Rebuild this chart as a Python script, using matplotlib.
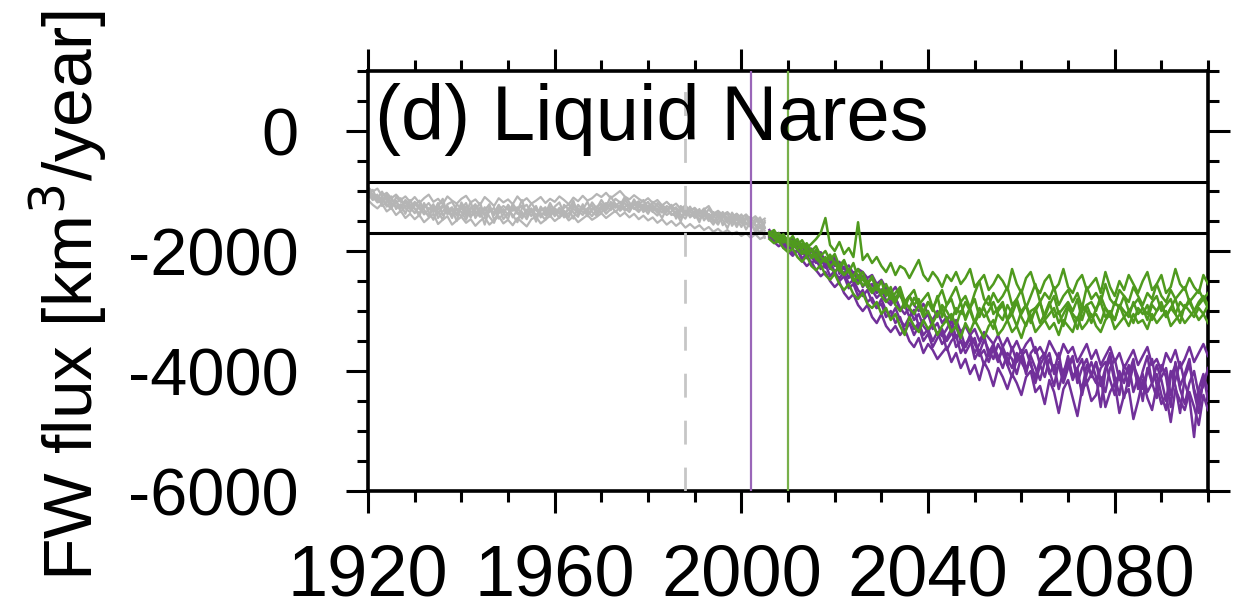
import numpy as np
import matplotlib
matplotlib.use("Agg")
import matplotlib.pyplot as plt
from matplotlib.ticker import MultipleLocator

plt.rcParams['font.family'] = ['Liberation Sans', 'DejaVu Sans']
plt.rcParams['axes.unicode_minus'] = False

# ---------------- data (km^3/year) ----------------
years_hist = np.arange(1920, 2006)      # 1920..2005
years_scen = np.arange(2006, 2101)      # 2006..2100

hist_members = [
    [-1000,-1120,-1060,-1250,-1180,-1090,-1300,-1220,-1380,-1150,
     -1290,-1420,-1200,-1350,-1480,-1260,-1130,-1390,-1310,-1500,
     -1240,-1370,-1180,-1450,-1320,-1560,-1290,-1400,-1230,-1360,
     -1470,-1210,-1330,-1150,-1420,-1290,-1510,-1260,-1380,-1200,
     -1340,-1450,-1230,-1310,-1160,-1400,-1270,-1350,-1190,-1290,
     -1150,-1260,-1090,-1220,-1310,-1140,-1250,-1180,-1330,-1270,
     -1380,-1230,-1320,-1450,-1290,-1400,-1350,-1510,-1280,-1440,
     -1370,-1520,-1300,-1460,-1560,-1390,-1480,-1620,-1420,-1550,
     -1470,-1640,-1510,-1580,-1700,-1530],
    [-1080,-980,-1150,-1200,-1100,-1280,-1160,-1350,-1240,-1300,
     -1180,-1260,-1390,-1310,-1220,-1450,-1340,-1250,-1410,-1290,
     -1350,-1480,-1300,-1220,-1390,-1270,-1430,-1530,-1320,-1250,
     -1310,-1400,-1520,-1280,-1230,-1360,-1250,-1440,-1310,-1370,
     -1260,-1190,-1380,-1290,-1460,-1230,-1310,-1180,-1350,-1410,
     -1300,-1200,-1270,-1130,-1190,-1280,-1350,-1220,-1170,-1300,
     -1240,-1340,-1410,-1270,-1350,-1230,-1460,-1320,-1400,-1330,
     -1450,-1350,-1430,-1300,-1400,-1520,-1440,-1370,-1580,-1460,
     -1600,-1420,-1550,-1650,-1490,-1620],
    [-1120,-1050,-1170,-1090,-1260,-1150,-1210,-1120,-1290,-1350,
     -1240,-1160,-1310,-1430,-1290,-1340,-1480,-1220,-1180,-1320,
     -1430,-1260,-1350,-1310,-1200,-1420,-1350,-1280,-1460,-1390,
     -1230,-1330,-1270,-1410,-1350,-1200,-1320,-1390,-1480,-1260,
     -1420,-1300,-1330,-1440,-1250,-1330,-1400,-1290,-1240,-1380,
     -1240,-1330,-1180,-1280,-1240,-1100,-1190,-1300,-1230,-1150,
     -1290,-1180,-1250,-1310,-1400,-1340,-1270,-1390,-1460,-1300,
     -1310,-1420,-1380,-1500,-1350,-1440,-1410,-1530,-1360,-1480,
     -1390,-1530,-1600,-1460,-1560,-1780],
    [-1050,-1150,-1100,-1140,-1220,-1300,-1100,-1180,-1200,-1270,
     -1370,-1230,-1280,-1200,-1320,-1380,-1260,-1300,-1450,-1220,
     -1300,-1200,-1410,-1380,-1270,-1330,-1220,-1480,-1370,-1300,
     -1400,-1260,-1380,-1350,-1470,-1300,-1400,-1330,-1270,-1430,
     -1310,-1380,-1280,-1220,-1360,-1430,-1220,-1400,-1310,-1260,
     -1210,-1290,-1230,-1350,-1270,-1200,-1300,-1140,-1280,-1220,
     -1330,-1270,-1360,-1230,-1300,-1380,-1420,-1250,-1330,-1390,
     -1420,-1300,-1490,-1380,-1440,-1340,-1570,-1440,-1490,-1380,
     -1530,-1470,-1430,-1560,-1620,-1500],
    [-960,-1070,-1130,-1010,-1160,-1240,-1190,-1260,-1150,-1220,
     -1300,-1370,-1240,-1290,-1350,-1200,-1400,-1330,-1270,-1410,
     -1190,-1320,-1440,-1250,-1320,-1380,-1290,-1360,-1240,-1470,
     -1370,-1290,-1350,-1460,-1310,-1420,-1280,-1370,-1400,-1310,
     -1380,-1280,-1440,-1370,-1300,-1350,-1260,-1420,-1290,-1330,
     -1360,-1250,-1320,-1210,-1330,-1260,-1230,-1280,-1350,-1250,
     -1180,-1310,-1290,-1360,-1250,-1300,-1370,-1290,-1350,-1420,
     -1340,-1480,-1360,-1410,-1510,-1470,-1350,-1460,-1520,-1410,
     -1530,-1450,-1570,-1520,-1440,-1600],
    [-1040,-1090,-1190,-1160,-1060,-1200,-1250,-1290,-1170,-1240,
     -1210,-1300,-1350,-1400,-1260,-1310,-1240,-1360,-1300,-1380,
     -1280,-1420,-1270,-1340,-1430,-1300,-1250,-1390,-1300,-1350,
     -1260,-1440,-1310,-1240,-1390,-1330,-1460,-1280,-1340,-1390,
     -1290,-1350,-1410,-1300,-1220,-1290,-1350,-1330,-1420,-1300,
     -1270,-1380,-1300,-1250,-1180,-1330,-1280,-1240,-1210,-1350,
     -1260,-1350,-1200,-1280,-1340,-1250,-1310,-1440,-1380,-1260,
     -1400,-1380,-1290,-1420,-1470,-1560,-1400,-1500,-1450,-1600,
     -1450,-1560,-1500,-1700,-1580,-1660],
    [-940,-1010,-960,-1080,-1030,-1120,-1060,-1150,-1090,-1180,
     -1100,-1200,-1120,-1060,-1180,-1130,-1220,-1090,-1160,-1210,
     -1130,-1080,-1190,-1140,-1230,-1100,-1170,-1250,-1120,-1190,
     -1140,-1220,-1090,-1180,-1120,-1210,-1160,-1100,-1200,-1130,
     -1180,-1090,-1150,-1220,-1110,-1170,-1080,-1160,-1120,-1050,
     -1100,-1030,-1120,-1060,-1000,-1090,-1140,-1070,-1130,-1180,
     -1120,-1200,-1150,-1240,-1180,-1260,-1210,-1300,-1240,-1330,
     -1280,-1360,-1310,-1250,-1380,-1330,-1400,-1350,-1430,-1380,
     -1450,-1390,-1480,-1420,-1510,-1460],
    [-1150,-1230,-1290,-1210,-1340,-1280,-1400,-1330,-1450,-1380,
     -1470,-1400,-1520,-1450,-1380,-1550,-1480,-1420,-1560,-1490,
     -1430,-1530,-1470,-1580,-1500,-1440,-1560,-1490,-1420,-1540,
     -1480,-1570,-1450,-1520,-1590,-1470,-1430,-1540,-1480,-1410,
     -1500,-1440,-1380,-1490,-1420,-1520,-1460,-1400,-1480,-1430,
     -1370,-1450,-1390,-1330,-1420,-1360,-1440,-1380,-1470,-1410,
     -1490,-1440,-1530,-1470,-1560,-1500,-1580,-1520,-1610,-1550,
     -1620,-1570,-1650,-1600,-1680,-1630,-1700,-1650,-1720,-1680,
     -1750,-1700,-1780,-1720,-1800,-1760],
]

purple_members = [
    [-1650,-1800,-1720,-1900,-1850,-1780,-1980,-2050,-1900,-2100,
     -2030,-2200,-2150,-2300,-2090,-2380,-2260,-2450,-2350,-2500,
     -2420,-2600,-2550,-2700,-2640,-2820,-2900,-2760,-3000,-2900,
     -3100,-2980,-3250,-3150,-3050,-3300,-3200,-3420,-3300,-3150,
     -3450,-3350,-3600,-3400,-3550,-3700,-3480,-3650,-3800,-3550,
     -3700,-3900,-3600,-3850,-3750,-4050,-3700,-3600,-3900,-4100,
     -3800,-4000,-3700,-4150,-3900,-3750,-4200,-3950,-3800,-4100,
     -3850,-4250,-3950,-3700,-4100,-4400,-3900,-4050,-3800,-4300,
     -4000,-3750,-4200,-4450,-3900,-4100,-4600,-3850,-4250,-4050,
     -3800,-4350,-4700,-4100,-4300],
    [-1750,-1680,-1850,-1800,-1950,-1880,-1830,-2000,-2120,-1980,
     -2150,-2080,-2250,-2180,-2350,-2270,-2400,-2330,-2520,-2400,
     -2600,-2480,-2650,-2780,-2700,-2600,-2850,-2780,-2950,-3050,
     -2950,-3150,-3050,-3250,-3350,-3200,-3400,-3300,-3500,-3380,
     -3250,-3500,-3600,-3450,-3700,-3550,-3400,-3750,-3650,-3850,
     -3600,-3800,-3950,-3700,-3850,-4000,-3750,-3950,-4150,-3850,
     -3700,-4050,-3900,-4200,-3950,-3800,-4100,-4300,-3900,-4050,
     -4200,-3950,-3850,-4150,-4400,-4000,-4200,-3900,-4350,-4100,
     -4500,-3950,-4200,-4050,-4400,-4650,-4100,-3900,-4300,-4550,
     -4200,-4000,-4400,-4250,-3950],
    [-1720,-1780,-1700,-1820,-1900,-1850,-1950,-1880,-2050,-1960,
     -2100,-2020,-2180,-2120,-2250,-2180,-2300,-2240,-2380,-2300,
     -2350,-2450,-2400,-2550,-2480,-2620,-2700,-2600,-2750,-2850,
     -2750,-2900,-3000,-2880,-3050,-3150,-3000,-3200,-3100,-3280,
     -3150,-3350,-3250,-3400,-3300,-3500,-3350,-3450,-3550,-3400,
     -3600,-3450,-3650,-3500,-3700,-3550,-3450,-3700,-3600,-3750,
     -3500,-3650,-3800,-3550,-3700,-3600,-3850,-3700,-3550,-3800,
     -3650,-3900,-3750,-3600,-3850,-3700,-3950,-3800,-3650,-3900,
     -3750,-3600,-3900,-3800,-4000,-3700,-3850,-3650,-3950,-3800,
     -3600,-3850,-3700,-3550,-3750],
    [-1780,-1850,-1920,-1870,-2000,-2080,-1980,-2150,-2250,-2180,
     -2320,-2420,-2350,-2500,-2600,-2520,-2700,-2800,-2720,-2900,
     -3000,-2900,-3100,-3200,-3050,-3250,-3350,-3250,-3400,-3300,
     -3500,-3600,-3450,-3700,-3550,-3650,-3800,-3700,-3600,-3850,
     -3700,-3950,-3800,-4050,-3900,-4150,-3850,-4000,-4250,-3950,
     -4100,-4300,-4050,-4200,-4400,-4100,-4000,-4350,-4250,-4550,
     -4150,-4350,-4700,-4300,-4150,-4450,-4750,-4300,-4200,-4500,
     -4400,-4100,-4600,-4350,-4200,-4700,-4400,-4300,-4800,-4500,
     -4150,-4450,-4650,-4250,-4550,-4400,-4850,-4300,-4500,-4650,
     -4350,-4600,-4900,-4400,-4650],
    [-1700,-1760,-1820,-1780,-1880,-1950,-1900,-2020,-1960,-2100,
     -2200,-2120,-2280,-2200,-2380,-2450,-2350,-2550,-2480,-2650,
     -2750,-2650,-2850,-2950,-2800,-3000,-3100,-2950,-3150,-3250,
     -3100,-3300,-3200,-3400,-3300,-3500,-3350,-3550,-3450,-3300,
     -3600,-3500,-3700,-3550,-3450,-3750,-3650,-3850,-3600,-3750,
     -3950,-3700,-3800,-4050,-3750,-3650,-3900,-4100,-3800,-3700,
     -4000,-4250,-3850,-4050,-3750,-4100,-3950,-3800,-4200,-4050,
     -3850,-4150,-4350,-3950,-3800,-4150,-4000,-4250,-3900,-4100,
     -4300,-4000,-3800,-4250,-4100,-3950,-4400,-4150,-3850,-4200,
     -4450,-5100,-4300,-4050,-4500],
    [-1760,-1830,-1790,-1950,-1880,-2050,-1980,-2120,-2060,-2200,
     -2140,-2300,-2220,-2420,-2330,-2500,-2420,-2620,-2550,-2750,
     -2650,-2850,-2780,-2950,-2880,-3100,-3000,-3200,-3100,-3350,
     -3200,-3400,-3250,-3500,-3380,-3600,-3450,-3350,-3650,-3500,
     -3400,-3700,-3550,-3450,-3800,-3650,-3900,-3700,-3550,-3800,
     -3650,-3900,-4100,-3800,-3650,-3950,-3850,-4200,-3900,-3750,
     -4050,-3900,-4300,-4000,-3850,-4150,-3950,-4400,-4050,-3850,
     -4100,-4600,-4000,-3800,-4200,-4050,-4450,-4100,-3900,-4250,
     -4050,-4350,-4200,-3900,-4150,-4500,-4000,-4250,-4700,-4100,
     -3900,-4300,-4550,-4150,-4000],
]

green_members = [
    [-1680,-1750,-1700,-1820,-1780,-1880,-1800,-1950,-1870,-2000,
     -1920,-2080,-2000,-2150,-2050,-2250,-2150,-2350,-2200,-2450,
     -2350,-2550,-2450,-2650,-2500,-2750,-2600,-2850,-2700,-2950,
     -2750,-2900,-2800,-3050,-2850,-3000,-2750,-3100,-2900,-2800,
     -3050,-2850,-3150,-2950,-2800,-3100,-2900,-2750,-3050,-2950,
     -2850,-3150,-2950,-2800,-3050,-2900,-3200,-2950,-2850,-3100,
     -2900,-2750,-3050,-2950,-2850,-3000,-2800,-3150,-2900,-2850,
     -3000,-2750,-2950,-3100,-2850,-2950,-2750,-3000,-2900,-2800,
     -2950,-3050,-2850,-2750,-3000,-2900,-2800,-3050,-2850,-2950,
     -2800,-3000,-2850,-2750,-2900],
    [-1750,-1700,-1800,-1860,-1780,-1900,-1960,-1880,-2020,-2080,
     -1980,-2100,-2180,-2060,-2220,-2300,-2180,-2350,-2420,-2300,
     -2480,-2550,-2420,-2600,-2680,-2550,-2720,-2800,-2650,-2850,
     -2950,-2780,-2900,-3000,-2850,-2950,-3100,-2900,-3000,-3150,
     -2950,-3050,-2850,-3000,-3200,-2950,-3100,-3000,-2850,-3050,
     -3150,-2900,-3050,-3250,-3000,-2900,-3100,-3000,-2850,-3150,
     -3050,-2950,-3200,-3050,-2900,-3100,-3300,-3000,-2900,-3100,
     -3050,-3200,-2950,-3050,-3150,-2900,-3100,-3000,-3200,-2950,
     -3050,-2900,-3150,-3000,-2900,-3100,-2950,-3050,-3200,-2900,
     -3000,-3100,-2950,-3050,-2900],
    [-1700,-1650,-1780,-1720,-1850,-1750,-1900,-1820,-1950,-1880,
     -1800,-1700,-1450,-1900,-2000,-1850,-2050,-1950,-2100,-1520,
     -2150,-2050,-2200,-2100,-2250,-2350,-2200,-2400,-2250,-2300,
     -2450,-2300,-2150,-2400,-2500,-2350,-2450,-2600,-2400,-2500,
     -2350,-2550,-2450,-2300,-2600,-2500,-2400,-2650,-2550,-2400,
     -2500,-2650,-2300,-2550,-2700,-2450,-2350,-2600,-2700,-2500,
     -2400,-2650,-2550,-2300,-2600,-2700,-2500,-2400,-2650,-2550,
     -2450,-2700,-2350,-2600,-2750,-2500,-2650,-2400,-2550,-2700,
     -2500,-2350,-2650,-2550,-2400,-2700,-2600,-2300,-2550,-2650,
     -2450,-2600,-2700,-2400,-2550],
    [-1800,-1870,-1830,-1950,-2020,-1960,-2100,-2180,-2080,-2250,
     -2320,-2230,-2400,-2480,-2380,-2550,-2650,-2550,-2720,-2800,
     -2700,-2880,-2950,-2850,-3050,-2950,-3150,-3050,-3250,-3400,
     -3100,-3250,-3350,-3150,-3300,-3200,-3400,-3250,-3150,-3350,
     -3250,-3450,-3200,-3350,-3150,-3300,-3450,-3250,-3150,-3400,
     -3300,-3150,-3350,-3250,-3450,-3200,-3100,-3350,-3250,-3150,
     -3300,-3200,-3400,-3150,-3250,-3350,-3100,-3300,-3200,-3050,
     -3250,-3350,-3150,-3050,-3300,-3200,-3100,-3250,-3050,-3200,
     -3150,-3300,-3050,-3200,-3100,-3000,-3250,-3150,-3050,-3200,
     -3100,-3000,-3150,-3050,-3200],
    [-1720,-1790,-1850,-1760,-1900,-1830,-1980,-2050,-1950,-2120,
     -2050,-2200,-2120,-2280,-2350,-2250,-2400,-2320,-2500,-2420,
     -2580,-2500,-2650,-2550,-2720,-2650,-2800,-2700,-2600,-2850,
     -2750,-2650,-2900,-2800,-2700,-2950,-2800,-2650,-2900,-2750,
     -2600,-2850,-2750,-2950,-2700,-2500,-2800,-2900,-2700,-2850,
     -2750,-2600,-2900,-2800,-2650,-2950,-2750,-2550,-2850,-2700,
     -2800,-2600,-2900,-2750,-2650,-2850,-2700,-2950,-2600,-2800,
     -2700,-2850,-2550,-2800,-2900,-2650,-2750,-2850,-2600,-2750,
     -2900,-2700,-2800,-2550,-2750,-2850,-2650,-2800,-2700,-2600,
     -2850,-2750,-2650,-2800,-2700],
    [-1690,-1760,-1820,-1790,-1880,-1940,-1870,-2000,-2060,-1980,
     -2130,-2200,-2100,-2260,-2180,-2330,-2400,-2300,-2450,-2550,
     -2450,-2600,-2700,-2600,-2750,-2850,-2750,-2900,-3000,-2850,
     -2950,-3050,-2900,-3100,-3000,-3200,-3050,-2950,-3150,-3050,
     -3250,-3000,-3100,-2950,-3200,-3050,-2950,-3150,-3300,-3000,
     -2900,-3150,-3050,-2850,-3100,-3250,-3000,-2950,-3200,-3050,
     -2850,-3100,-3000,-3250,-2950,-3050,-3150,-2900,-3000,-3200,
     -2950,-2850,-3100,-3000,-3150,-2900,-3000,-3100,-2850,-3050,
     -2950,-3150,-2900,-3000,-2850,-3100,-2950,-2800,-3050,-2950,
     -2850,-3000,-2900,-2800,-2950],
]

ref_levels = [-850, -1700]          # horizontal reference lines
year_dashed = 1988                   # gray dashed vertical line
year_purple = 2002                   # purple vertical line
year_green = 2010                    # green vertical line

title = "(d) Liquid Nares"
ylabel = "FW flux [km$^3$/year]"
xticks = [1920, 1960, 2000, 2040, 2080]
yticks = [0, -2000, -4000, -6000]

# ---------------- figure ----------------
C_GRAY = "#b5b5b5"
C_PURPLE = "#71309a"
C_GREEN = "#4f9a1e"
C_PURPLE_L = "#9a66b8"
C_GREEN_L = "#78b04a"

fig = plt.figure(figsize=(12.43, 6.16), dpi=100)
ax = fig.add_axes([0.2961, 0.2029, 0.6758, 0.6818])

for m in hist_members:
    ax.plot(years_hist, m, color=C_GRAY, lw=1.6, zorder=2)

for lev in ref_levels:
    ax.axhline(lev, color="black", lw=2.2, zorder=3)

for m in purple_members:
    ax.plot(years_scen, m, color=C_PURPLE, lw=1.8, zorder=4)
for m in green_members:
    ax.plot(years_scen, m, color=C_GREEN, lw=1.8, zorder=5)

ax.axvline(year_dashed, color="#c6c6c6", lw=2.0, ls=(0, (8.6, 8.3)), zorder=6)
ax.axvline(year_purple, color=C_PURPLE_L, lw=1.6, zorder=6)
ax.axvline(year_green, color=C_GREEN_L, lw=1.6, zorder=6)

ax.set_xlim(1920, 2100)
ax.set_ylim(-6000, 1000)
ax.set_xticks(xticks)
ax.set_yticks(yticks)
ax.xaxis.set_minor_locator(MultipleLocator(10))
ax.yaxis.set_minor_locator(MultipleLocator(500))

for s in ax.spines.values():
    s.set_linewidth(2.6)

ax.tick_params(which="both", direction="out", top=True, right=True,
               labeltop=False, labelright=False, width=2.2)
ax.tick_params(which="major", length=16)
ax.tick_params(which="minor", length=8)
ax.tick_params(axis="x", which="major", labelsize=52, pad=22)
ax.tick_params(axis="y", which="major", labelsize=48, pad=34)

ax.text(0.008, 0.836, title, transform=ax.transAxes, fontsize=56,
        ha="left", va="baseline", zorder=7)

fig.text(68 / 1243, 1 - 295 / 616, ylabel, rotation=90, fontsize=50,
         ha="center", va="center")

fig.savefig("out.png", dpi=100)
